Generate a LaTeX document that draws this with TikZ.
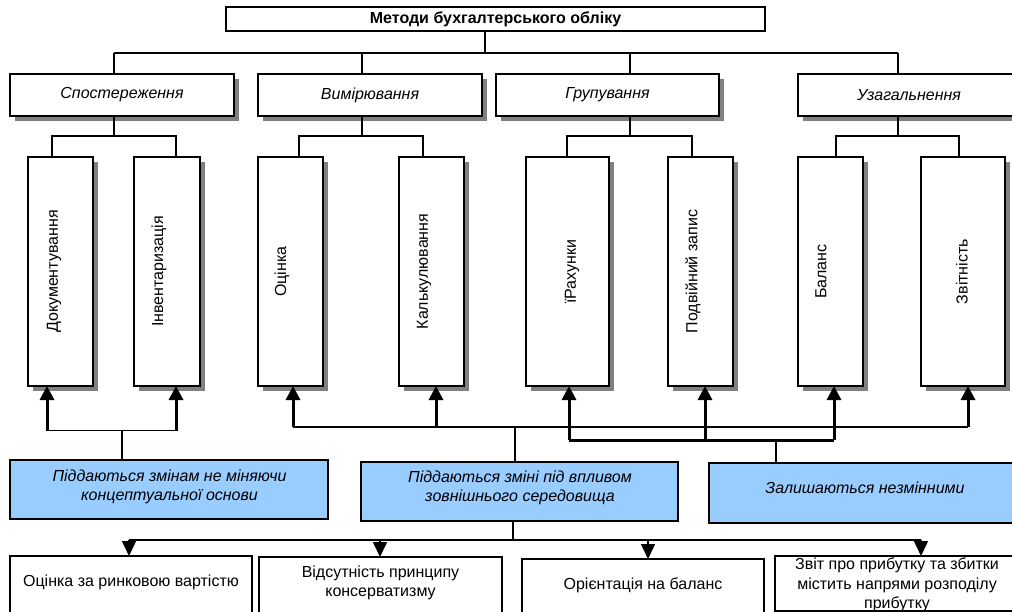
\documentclass[tikz,border=0pt]{standalone}
\usepackage{fontspec}
\setmainfont{Liberation Sans}
\usetikzlibrary{arrows.meta,shadows}
\definecolor{lblue}{RGB}{153,204,255}
\begin{document}
\begin{tikzpicture}[x=1pt,y=-1pt,
 box/.style={draw, line width=1.5pt, inner sep=0pt, outer sep=0pt, fill=white},
 shbox/.style={box, drop shadow={fill=gray, opacity=1, shadow xshift=5pt, shadow yshift=-5pt}},
 bluebox/.style={box, fill=lblue},
 wh/.style 2 args={minimum width=#1pt, minimum height=#2pt},
 ln/.style={line width=1.5pt},
 thk/.style={line width=3pt},
 upar/.style={line width=3pt, -{Triangle[width=14pt,length=14pt]}},
 dnar/.style={line width=1.5pt, -{Triangle[width=14pt,length=15pt]}},
 ttl/.style={font=\bfseries\fontsize{16}{18}\selectfont},
 itx/.style={font=\itshape\fontsize{16}{19}\selectfont, align=center},
 vtx/.style={rotate=90, font=\fontsize{16}{19}\selectfont},
 btx/.style={font=\fontsize{16}{19.5}\selectfont, align=center}
]
\useasboundingbox (0,0) rectangle (1012,612);
\clip (0,0) rectangle (1012,612);
\fill[white] (0,0) rectangle (1012,612);

% top
\node[box, wh={539}{24}, ttl] (top) at (495.5,19) {Методи бухгалтерського обліку};

% level 2
\node[shbox, wh={224}{42}, itx] (s1) at (122,95) {Спостереження};
\node[shbox, wh={224}{42}, itx] (s2) at (370,95) {Вимірювання};
\node[shbox, wh={223}{42}, itx] (s3) at (607.5,95) {Групування};
\node[shbox, wh={222}{42}, itx] (s4) at (909,95) {Узагальнення};

% level 3 boxes
\node[shbox, wh={65}{229}] (d1) at (60.5,271.5) {};
\node[shbox, wh={66}{229}] (d2) at (167,271.5) {};
\node[shbox, wh={65}{229}] (d3) at (290.5,271.5) {};
\node[shbox, wh={65}{229}] (d4) at (431.5,271.5) {};
\node[shbox, wh={83}{229}] (d5) at (567.5,271.5) {};
\node[shbox, wh={65}{229}] (d6) at (700.5,271.5) {};
\node[shbox, wh={65}{229}] (d7) at (830.5,271.5) {};
\node[shbox, wh={84}{229}] (d8) at (963,271.5) {};

\node[vtx] (v1) at (54,271.5) {Документування};
\node[vtx] (v2) at (159,271.5) {Інвентаризація};
\node[vtx] (v3) at (282,271.5) {Оцінка};
\node[vtx] (v4) at (424,271.5) {Калькулювання};
\node[vtx] (v5) at (572,271.5) {їРахунки};
\node[vtx] (v6) at (693,271.5) {Подвійний запис};
\node[vtx] (v7) at (821,271.5) {Баланс};
\node[vtx] (v8) at (962,271.5) {Звітність};

% top bus
\coordinate (j0) at (485,53);
\coordinate (b1) at (114,53);
\coordinate (b2) at (362,53);
\coordinate (b3) at (630,53);
\coordinate (b4) at (898,53);
\draw[ln] (top.south -| j0) -- (j0);
\draw[ln] (b1) -- (b4);
\foreach \i in {1,...,4} {\draw[ln] (b\i) -- (b\i |- s\i.north);}

% level 2 -> level 3
\coordinate (c1) at (114,136);
\coordinate (c2) at (362,136);
\coordinate (c3) at (630,136);
\coordinate (c4) at (898,136);
\coordinate (h1) at (52,136);
\coordinate (h2) at (176,136);
\coordinate (h3) at (299,136);
\coordinate (h4) at (423,136);
\coordinate (h5) at (567,136);
\coordinate (h6) at (692,136);
\coordinate (h7) at (836,136);
\coordinate (h8) at (959,136);
\foreach \i in {1,...,4} {\draw[ln] (s\i.south -| c\i) -- (c\i);}
\draw[ln] (h1 |- d1.north) -- (h1) -- (h2) -- (h2 |- d2.north);
\draw[ln] (h3 |- d3.north) -- (h3) -- (h4) -- (h4 |- d4.north);
\draw[ln] (h5 |- d5.north) -- (h5) -- (h6) -- (h6 |- d6.north);
\draw[ln] (h7 |- d7.north) -- (h7) -- (h8) -- (h8 |- d8.north);

% blue boxes
\node[bluebox, wh={318}{59}] (B1) at (169,489.5) {};
\node[bluebox, wh={317}{59}] (B2) at (519.5,491.5) {};
\node[bluebox, wh={312}{60}] (B3) at (865,493) {};
\node[itx] (bt1) at (169.5,486.5) {Піддаються змінам не міняючи\\концептуальної основи};
\node[itx] (bt2) at (520,487.5) {Піддаються зміні під впливом\\зовнішнього середовища};
\node[itx] (bt3) at (865,488) {Залишаються незмінними};

% upward arrows
\coordinate (u1) at (47,430.5);
\coordinate (u2) at (176,430.5);
\coordinate (u3) at (293,427);
\coordinate (u4) at (436,427);
\coordinate (u5) at (569,440);
\coordinate (u6) at (705,440);
\coordinate (u7) at (834,440);
\coordinate (u8) at (968,427);
\coordinate (m1) at (122,430.5);
\coordinate (m2) at (515,427);
\coordinate (m3) at (776,440);

\draw[ln] (u1) -- (u2);
\draw[ln] (m1) -- (m1 |- B1.north);
\draw[ln] (u3) -- (u8);
\draw[ln] (m2) -- (m2 |- B2.north);
\draw[thk] (u5) -- (u7);
\draw[ln] (m3) -- (m3 |- B3.north);
\foreach \i in {1,...,8} {\draw[upar] (u\i) -- (u\i |- d\i.south);}

% bottom boxes
\node[box, wh={242}{74}] (E1) at (131,593) {};
\node[box, wh={243}{73}] (E2) at (380.5,593.5) {};
\node[box, wh={242}{71}] (E3) at (643,594.5) {};
\node[box, wh={245}{55}] (E4) at (897.5,583.5) {};
\node[btx] (et1) at (131,582) {Оцінка за ринковою вартістю};
\node[btx] (et2) at (380.5,583) {Відсутність принципу\\консерватизму};
\node[btx] (et3) at (643,585) {Орієнтація на баланс};
\node[btx] (et4) at (897,585) {Звіт про прибутку та збитки\\містить напрями розподілу\\прибутку};

\coordinate (k0) at (513,540);
\coordinate (k1) at (129,540);
\coordinate (k2) at (380,540);
\coordinate (k3) at (648,540);
\coordinate (k4) at (921,540);
\draw[ln] (B2.south -| k0) -- (k0);
\draw[ln] (k1) -- (k4);
\foreach \i in {1,...,4} {\draw[dnar] (k\i) -- (k\i |- E\i.north);}
\end{tikzpicture}
\end{document}
